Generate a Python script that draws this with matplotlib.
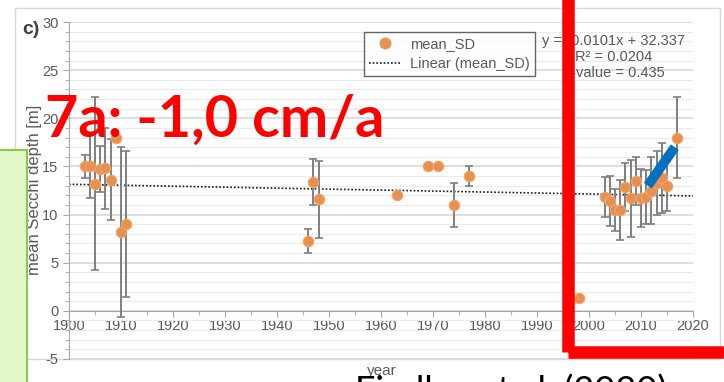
import numpy as np
import matplotlib
matplotlib.use("Agg")
import matplotlib.pyplot as plt
from matplotlib.lines import Line2D
from matplotlib.patches import Rectangle

# ---- data ----
years = [1903, 1904, 1905, 1906, 1907, 1908, 1909, 1910, 1911,
         1946, 1947, 1948, 1963, 1969, 1971, 1974, 1977, 1998,
         2003, 2004, 2005, 2006, 2007, 2008, 2009, 2010, 2011,
         2012, 2013, 2014, 2015, 2017]
mean_sd = [15.0, 15.0, 13.2, 14.7, 14.8, 13.6, 18.0, 8.2, 9.0,
           7.3, 13.4, 11.6, 12.0, 15.0, 15.0, 11.0, 14.0, 1.3,
           11.8, 11.4, 10.5, 10.5, 12.9, 11.7, 13.5, 11.7, 11.8,
           12.5, 13.3, 13.8, 13.0, 18.0]
sd_err = [1.2, 3.3, 9.0, 2.4, 4.2, 4.2, 0.0, 8.8, 7.6,
          1.25, 2.4, 4.0, 0.0, 0.0, 0.0, 2.3, 1.0, 0.0,
          2.1, 2.6, 2.2, 3.1, 2.5, 4.0, 2.5, 3.0, 2.8,
          3.5, 3.3, 3.6, 2.6, 4.2]
trend_slope = -0.0101
trend_intercept = 32.337
trend_r2 = 0.0204
trend_p = 0.435
highlight_years = [2011.3, 2016.5]
highlight_vals = [13.0, 17.0]

x_ticks = list(range(1900, 2021, 10))
y_ticks = list(range(-5, 31, 5))

# ---- figure ----
W, H = 724, 382
plt.rcParams["font.family"] = ["Liberation Sans", "DejaVu Sans"]
plt.rcParams["axes.unicode_minus"] = False
fig = plt.figure(figsize=(W / 100, H / 100), dpi=100)
fig.patch.set_facecolor("white")

def fx(px):
    return px / W

def fy(py):
    return 1 - py / H

# chart frame
fig.add_artist(Rectangle((fx(15), fy(359)), fx(720) - fx(15), fy(8) - fy(359),
                         transform=fig.transFigure, fill=False,
                         edgecolor="#D9D9D9", lw=1.0, zorder=0))

ax = fig.add_axes([fx(69), fy(359), fx(693) - fx(69), fy(22) - fy(359)])
ax.set_xlim(1900, 2020)
ax.set_ylim(-5, 30)
ax.set_facecolor("none")

# grid
ax.set_yticks(y_ticks)
ax.set_yticks(np.arange(-5, 31, 1), minor=True)
ax.set_xticks(x_ticks)
ax.set_xticks(np.arange(1900, 2021, 5), minor=True)
ax.grid(axis="y", which="major", color="#D4D4D4", lw=1.1, zorder=0)
ax.grid(axis="y", which="minor", color="#EBEBEB", lw=0.8, zorder=0)
ax.grid(axis="x", visible=False, which="both")

for s in ["top", "right"]:
    ax.spines[s].set_visible(False)
ax.spines["bottom"].set_position(("data", 0))
ax.spines["bottom"].set_color("#A6A6A6")
ax.spines["left"].set_color("#A6A6A6")
ax.tick_params(axis="both", which="both", colors="#A6A6A6", labelcolor="#595959",
               labelsize=10.5, direction="out")
ax.tick_params(axis="both", which="major", length=4)
ax.tick_params(axis="both", which="minor", length=3)
ax.tick_params(axis="x", pad=2)

# trendline
tx = np.array([1900, 2020])
ax.plot(tx, trend_slope * tx + trend_intercept, ls=(0, (1, 1.2)), color="#1A1A1A",
        lw=1.2, zorder=2)

# error bars and points
yrs = np.array(years, dtype=float)
vals = np.array(mean_sd)
errs = np.array(sd_err)
m = errs > 0
ax.errorbar(yrs[m], vals[m], yerr=errs[m], fmt="none", ecolor="#7F7F7F",
            elinewidth=1.4, capsize=3, capthick=1.2, zorder=3)
ax.plot(yrs, vals, "o", color="#E8914F", ms=7.5, mec="#F0A468", mew=0.8, zorder=4)

# highlight stroke
ax.plot(highlight_years, highlight_vals, color="#0070C0", lw=7,
        solid_capstyle="butt", zorder=6)

# legend
handles = [Line2D([], [], ls="none", marker="o", color="#E8914F", ms=7.5),
           Line2D([], [], ls=(0, (1, 1.2)), color="#1A1A1A", lw=1.2)]
leg = fig.legend(handles, ["mean_SD", "Linear (mean_SD)"], loc="upper left",
                 bbox_to_anchor=(fx(364), fy(32)), frameon=True, fancybox=False,
                 edgecolor="#404040", fontsize=10.5, labelcolor="#595959",
                 handlelength=2.2, borderpad=0.35, labelspacing=0.4,
                 handletextpad=0.6, borderaxespad=0)
leg.get_frame().set_linewidth(1.0)

# trend text
fig.text(fx(614), fy(57), "y = -0.0101x + 32.337\nR² = 0.0204\np-value = 0.435",
         ha="center", va="center", multialignment="center", fontsize=10.5,
         color="#595959", linespacing=1.15)

# axis labels
fig.text(fx(35), fy(190), "mean Secchi depth [m]", rotation=90, ha="center",
         va="center", fontsize=12, color="#595959")
fig.text(fx(382), fy(371), "year", ha="center", va="center", fontsize=11,
         color="#595959")
fig.text(fx(31), fy(30), "c)", ha="center", va="center", fontsize=14,
         fontweight="bold", color="#404040")

# overlays
fig.add_artist(Rectangle((fx(-5), fy(395)), fx(27) - fx(-5), fy(150) - fy(395),
                         transform=fig.transFigure, facecolor="#E4F8C8",
                         edgecolor="#8CC850", lw=1.5, zorder=10))
fig.add_artist(Rectangle((fx(568), fy(352)), fx(760) - fx(568), fy(-20) - fy(352),
                         transform=fig.transFigure, fill=False, edgecolor="#FF0000",
                         lw=9, joinstyle="round", zorder=11))

t = fig.text(fx(45), fy(137), "7a: -1,0 cm/a", ha="left", va="baseline",
             fontsize=42, fontweight="bold", color="#FF0000",
             family=["Lato", "DejaVu Sans"], zorder=12)
fig.canvas.draw()
bb = t.get_window_extent()
t.set_fontsize(42 * 340 / bb.width)

fig.text(fx(355), fy(373), "Findlay et al. (2020)", ha="left", va="top",
         fontsize=26, color="#000000", family=["Lato", "DejaVu Sans"], zorder=12)

fig.savefig("out.png", dpi=100)
